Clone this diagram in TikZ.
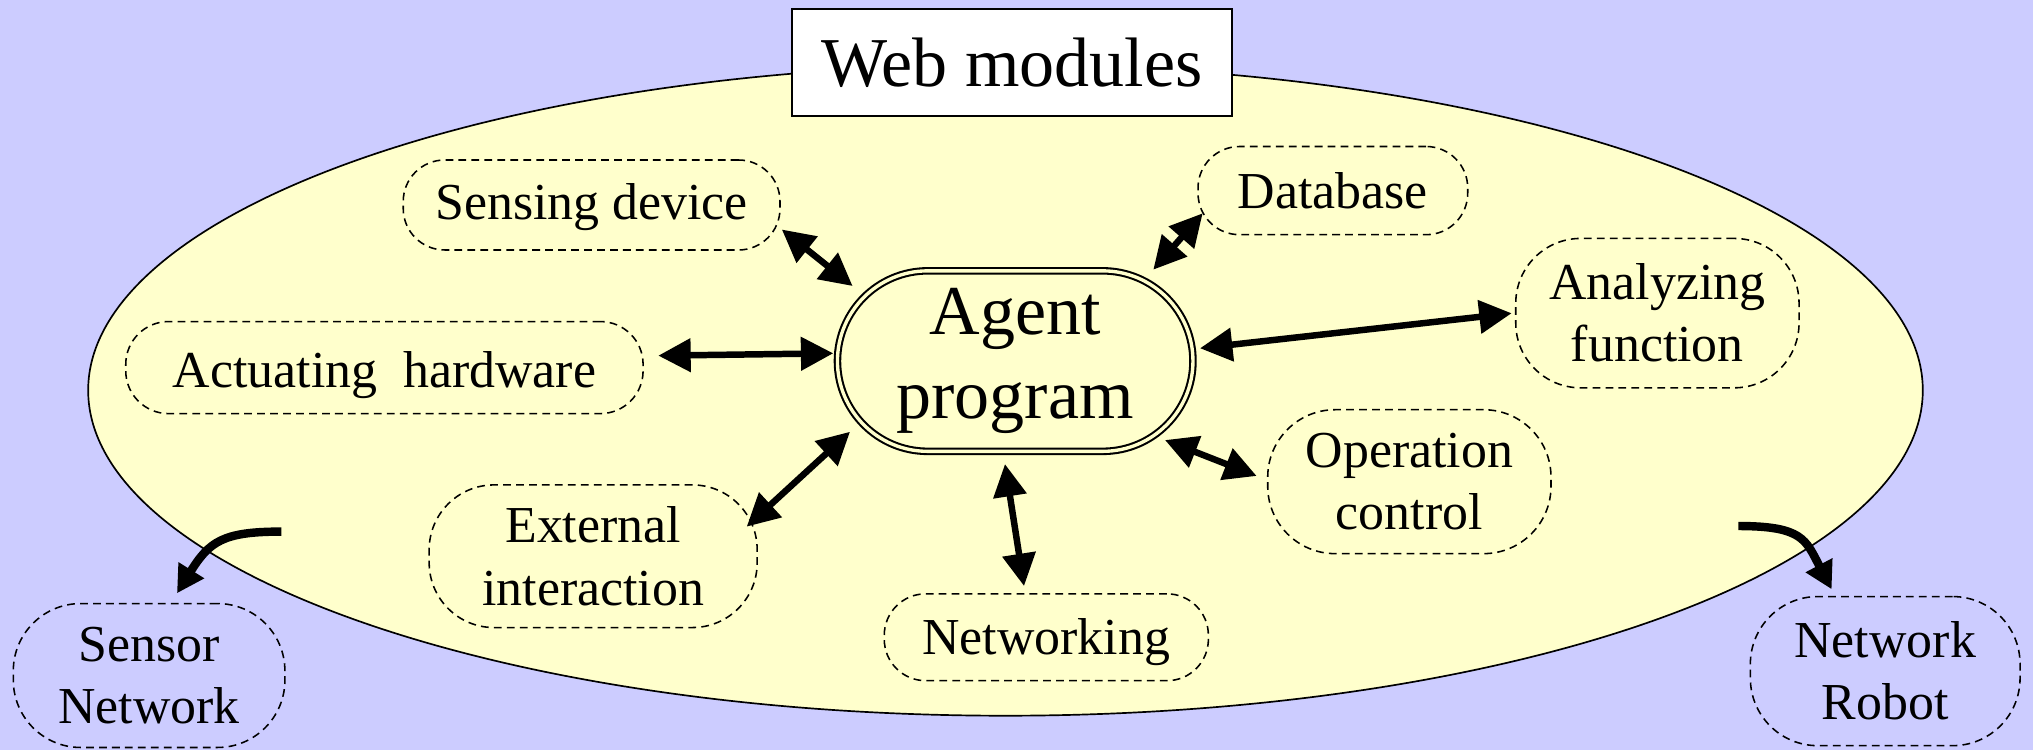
\documentclass[tikz,border=0pt]{standalone}
\usepackage{fontspec}
\setmainfont{Liberation Serif}
\usetikzlibrary{arrows.meta,shapes.misc}
\definecolor{bglav}{HTML}{CCCCFF}
\definecolor{ellyel}{HTML}{FFFFCC}
\begin{document}
\begin{tikzpicture}[x=1pt,y=-1pt,
  modbox/.style={draw=black, line width=1.2pt, dash pattern=on 6pt off 4pt,
    align=center, inner sep=0pt, font=\fontsize{40}{48}\selectfont},
  bigtext/.style={font=\fontsize{54}{65}\selectfont},
  bidir/.style={line width=5pt,
    {Triangle[length=25pt,width=25pt]}-{Triangle[length=25pt,width=25pt]}},
  curvarr/.style={line width=6.5pt, -{Triangle[length=21pt,width=22pt]}}]
% background and bounding box
\fill[bglav] (0,0) rectangle (1568,578.45);
\useasboundingbox (0,0) rectangle (1568,578.45);
% big ellipse
\draw[fill=ellyel, line width=1.3pt] (775.5,301) ellipse [x radius=707.5, y radius=251];
% title
\node[draw, fill=white, line width=1.5pt, minimum width=340pt, minimum height=82pt,
  inner sep=0pt, bigtext] (title) at (780.5,48.2) {Web modules};
% central node
\node[rounded rectangle, draw, double=ellyel, double distance=2.6pt, line width=1.6pt,
  minimum width=274.2pt, minimum height=139.2pt, inner sep=0pt, align=center, bigtext]
  (agent) at (783,278.5) {Agent\\program};
% modules
\node[modbox, minimum width=290.6pt, minimum height=69.4pt, rounded corners=32pt,
  text height=22.6pt, text depth=0pt]
  (sense) at (456.3,158.1) {Sensing device};
\node[modbox, minimum width=208pt, minimum height=68pt, rounded corners=32pt]
  (db) at (1028,147) {Database};
\node[modbox, minimum width=218.5pt, minimum height=115.2pt, rounded corners=50pt]
  (analyze) at (1278.3,241.5) {Analyzing\\function};
\node[modbox, minimum width=399pt, minimum height=71pt, rounded corners=33pt,
  text height=30.6pt, text depth=0pt]
  (actuate) at (296.5,283.5) {Actuating~ hardware};
\node[modbox, minimum width=218.5pt, minimum height=111pt, rounded corners=52pt]
  (oper) at (1087,371.5) {Operation\\control};
\node[modbox, minimum width=253pt, minimum height=110pt, rounded corners=50pt]
  (ext) at (457.5,429) {External\\interaction};
\node[modbox, minimum width=250pt, minimum height=67pt, rounded corners=32pt,
  text height=26.6pt, text depth=0pt]
  (net) at (807,491.5) {Networking};
\node[modbox, minimum width=209.5pt, minimum height=111pt, rounded corners=52pt]
  (sensornet) at (115,521) {Sensor\\Network};
\node[modbox, minimum width=208pt, minimum height=115pt, rounded corners=52pt]
  (robot) at (1454,517.6) {Network\\Robot};
% connectors
\draw[bidir] ([shift={(146.7,18.9)}]sense.center) -- ([shift={(-125.4,-57.9)}]agent.center);
\draw[bidir] ([shift={(-100.4,17.5)}]db.center) -- ([shift={(106.5,-70.5)}]agent.center);
\draw[bidir] ([shift={(211.2,-9.2)}]actuate.center) -- ([shift={(-140.3,-6)}]agent.center);
\draw[bidir] ([shift={(-112.4,0.1)}]analyze.center) -- ([shift={(142.5,-9.9)}]agent.center);
\draw[bidir] ([shift={(-117.8,-4.4)}]oper.center) -- ([shift={(115.5,60.9)}]agent.center);
\draw[bidir] ([shift={(118.4,-22.8)}]ext.center) -- ([shift={(-127.4,54.5)}]agent.center);
\draw[bidir] ([shift={(-17.2,-39.5)}]net.center) -- ([shift={(-7.9,79.4)}]agent.center);
% curved arrows
\coordinate (sstart) at (217,410);
\coordinate (rstart) at (1340.7,405.7);
\draw[curvarr] (sstart) .. controls +(-45,0) and +(25,-40) .. ([shift={(21.5,-63.4)}]sensornet.center);
\draw[curvarr] (rstart) .. controls +(50,0) and +(-20,-38) .. ([shift={(-41.3,-63.1)}]robot.center);
\end{tikzpicture}
\end{document}
